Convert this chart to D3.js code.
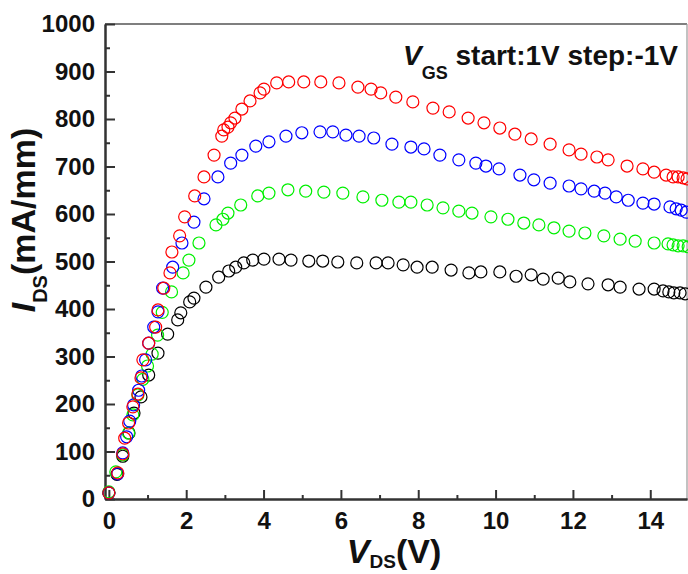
<!DOCTYPE html>
<html>
<head>
<meta charset="utf-8">
<script src="https://cdn.jsdelivr.net/npm/d3@7"></script>
<style>
  body { margin: 0; background: #fff; }
  svg { display: block; font-family: Arial, 'Liberation Sans', sans-serif; font-weight: bold; }
</style>
</head>
<body>
<div id="chart"></div>
<script>
// V_DS (V) and I_DS (mA/mm), one pair of arrays per V_GS curve
const redV = [0.00, 0.23, 0.36, 0.41, 0.51, 0.62, 0.75, 0.83, 0.88, 1.03, 1.21, 1.27, 1.42, 1.58, 1.63, 1.83, 1.96, 2.22, 2.46, 2.72, 2.92, 2.97, 3.08, 3.15, 3.26, 3.44, 3.65, 3.91, 4.01, 4.34, 4.65, 5.04, 5.48, 5.95, 6.44, 6.78, 7.03, 7.42, 7.86, 8.38, 8.80, 9.29, 9.70, 10.11, 10.50, 10.92, 11.41, 11.90, 12.21, 12.62, 12.91, 13.40, 13.81, 14.10, 14.41, 14.59, 14.72, 14.85, 14.95];
const redI = [13, 55, 95, 128, 160, 194, 221, 255, 293, 328, 362, 398, 444, 476, 520, 554, 594, 638, 678, 724, 764, 777, 783, 792, 802, 821, 838, 855, 863, 876, 878, 878, 878, 876, 867, 863, 855, 846, 836, 823, 815, 802, 792, 781, 768, 758, 747, 735, 726, 720, 714, 701, 695, 688, 682, 678, 678, 676, 674];

const blueV = [0.00, 0.23, 0.36, 0.46, 0.54, 0.64, 0.77, 0.85, 0.95, 1.03, 1.16, 1.27, 1.39, 1.65, 1.89, 2.20, 2.46, 2.82, 3.15, 3.44, 3.80, 4.14, 4.58, 4.99, 5.46, 5.79, 6.13, 6.47, 6.85, 7.32, 7.81, 8.15, 8.56, 9.05, 9.49, 9.75, 10.09, 10.63, 10.99, 11.41, 11.90, 12.21, 12.55, 12.83, 13.12, 13.43, 13.81, 14.10, 14.51, 14.67, 14.80, 14.93];
const blueI = [13, 53, 97, 131, 164, 198, 229, 259, 293, 328, 362, 394, 444, 488, 539, 583, 632, 678, 707, 724, 743, 752, 764, 771, 773, 773, 766, 764, 760, 747, 741, 737, 724, 714, 707, 701, 695, 682, 672, 665, 659, 653, 648, 644, 636, 629, 623, 621, 615, 611, 608, 604];

const greenV = [0.00, 0.18, 0.36, 0.51, 0.62, 0.75, 0.88, 1.00, 1.12, 1.26, 1.38, 1.62, 1.92, 2.07, 2.33, 2.77, 2.95, 3.08, 3.41, 3.85, 4.14, 4.63, 5.09, 5.56, 6.05, 6.57, 7.06, 7.50, 7.81, 8.23, 8.64, 9.05, 9.39, 9.88, 10.32, 10.73, 11.12, 11.51, 11.90, 12.31, 12.80, 13.22, 13.61, 14.10, 14.46, 14.59, 14.72, 14.85, 14.98];
const greenI = [15, 57, 93, 139, 177, 219, 252, 280, 305, 345, 393, 436, 476, 503, 539, 577, 589, 602, 619, 638, 644, 651, 648, 646, 644, 636, 629, 625, 625, 619, 613, 606, 602, 594, 589, 581, 577, 571, 564, 560, 554, 547, 543, 539, 537, 535, 533, 533, 531];

const blackV = [0.00, 0.21, 0.36, 0.52, 0.65, 0.83, 1.03, 1.27, 1.52, 1.78, 1.86, 2.09, 2.20, 2.51, 2.84, 3.10, 3.28, 3.49, 3.72, 4.01, 4.40, 4.71, 5.17, 5.53, 5.92, 6.41, 6.91, 7.22, 7.61, 7.97, 8.36, 8.85, 9.31, 9.62, 10.11, 10.53, 10.92, 11.23, 11.62, 11.92, 12.39, 12.91, 13.22, 13.71, 14.10, 14.33, 14.48, 14.61, 14.77, 14.90];
const blackI = [13, 52, 90, 139, 181, 215, 261, 307, 347, 377, 392, 415, 423, 446, 467, 480, 488, 497, 503, 505, 505, 503, 501, 501, 499, 497, 497, 497, 493, 488, 488, 482, 476, 478, 478, 469, 472, 463, 465, 457, 453, 451, 446, 442, 442, 438, 436, 434, 434, 432];

const xTicks = [0, 2, 4, 6, 8, 10, 12, 14];
const xMinor = [1, 3, 5, 7, 9, 11, 13];
const yTicks = [0, 100, 200, 300, 400, 500, 600, 700, 800, 900, 1000];
const yMinor = [50, 150, 250, 350, 450, 550, 650, 750, 850, 950];

// drawn back to front, red ends on top
const series = [
  { v: blackV, i: blackI, color: '#000000' },
  { v: greenV, i: greenI, color: '#00f000' },
  { v: blueV, i: blueI, color: '#0000ff' },
  { v: redV, i: redI, color: '#ff0000' },
];

const width = 688;
const height = 574;
const plot = { left: 105, right: 687, top: 24, bottom: 499 };

const svg = d3
  .select('#chart')
  .append('svg')
  .attr('width', width)
  .attr('height', height);

const xScale = d3.scaleLinear().domain([-0.1, 14.95]).range([plot.left, plot.right]);
const yScale = d3.scaleLinear().domain([0, 1000]).range([plot.bottom, plot.top]);

// frame on top and right
svg.append('line')
  .attr('x1', xScale.range()[0]).attr('x2', xScale.range()[1])
  .attr('y1', yScale(1000)).attr('y2', yScale(1000))
  .attr('stroke', '#555').attr('stroke-width', 1.5);
svg.append('line')
  .attr('x1', xScale.range()[1]).attr('x2', xScale.range()[1])
  .attr('y1', yScale.range()[0]).attr('y2', yScale.range()[1])
  .attr('stroke', '#999').attr('stroke-width', 1.2);

const xAxis = d3.axisBottom(xScale).tickValues(xTicks).tickSizeInner(-9).tickSizeOuter(0).tickPadding(13).tickFormat(d3.format('d'));
const xAxisMinor = d3.axisBottom(xScale).tickValues(xMinor).tickSizeInner(-4).tickSizeOuter(0).tickFormat('');
const yAxis = d3.axisLeft(yScale).tickValues(yTicks).tickSizeInner(-10).tickSizeOuter(0).tickPadding(10).tickFormat(d3.format('d'));
const yAxisMinor = d3.axisLeft(yScale).tickValues(yMinor).tickSizeInner(-5).tickSizeOuter(0).tickFormat('');

function styleAxis(g) {
  g.selectAll('path, line').attr('stroke', '#333').attr('stroke-width', 2);
  g.selectAll('text')
    .attr('fill', '#111')
    .attr('font-size', 24)
    .attr('font-weight', 'bold')
    .attr('font-family', "Arial, 'Liberation Sans', sans-serif");
}

svg.append('g').attr('transform', `translate(0, ${plot.bottom})`).call(xAxisMinor).call(styleAxis);
svg.append('g').attr('transform', `translate(0, ${plot.bottom})`).call(xAxis).call(styleAxis);
svg.append('g').attr('transform', `translate(${plot.left}, 0)`).call(yAxisMinor).call(styleAxis);
svg.append('g').attr('transform', `translate(${plot.left}, 0)`).call(yAxis).call(styleAxis);

// open circle markers
series.forEach(s => {
  svg.append('g')
    .selectAll('circle')
    .data(d3.zip(s.v, s.i))
    .enter()
    .append('circle')
    .attr('cx', d => xScale(d[0]))
    .attr('cy', d => yScale(d[1]))
    .attr('r', 6)
    .attr('fill', 'none')
    .attr('stroke', s.color)
    .attr('stroke-width', 1.2);
});

// annotation
const note = svg.append('text')
  .attr('x', 678)
  .attr('y', 65)
  .attr('text-anchor', 'end')
  .attr('font-size', 28)
  .attr('fill', '#111');
note.append('tspan').attr('font-style', 'italic').text('V');
note.append('tspan').attr('font-size', 18).attr('dy', 14).text('GS');
note.append('tspan').attr('dy', -14).text(' start:1V step:-1V');

// x label
const xLabel = svg.append('text')
  .attr('x', 394)
  .attr('y', 563)
  .attr('text-anchor', 'middle')
  .attr('font-size', 34)
  .attr('fill', '#111');
xLabel.append('tspan').attr('font-style', 'italic').text('V');
xLabel.append('tspan').attr('font-size', 19).attr('dy', 5).text('DS');
xLabel.append('tspan').attr('dy', -5).text('(V)');

// y label
const yLabel = svg.append('text')
  .attr('transform', 'translate(35, 220) rotate(-90)')
  .attr('text-anchor', 'middle')
  .attr('font-size', 34)
  .attr('fill', '#111');
yLabel.append('tspan').attr('font-style', 'italic').text('I');
yLabel.append('tspan').attr('font-size', 20).attr('dy', 12).text('DS');
yLabel.append('tspan').attr('dy', -12).text('(mA/mm)');
</script>
</body>
</html>
